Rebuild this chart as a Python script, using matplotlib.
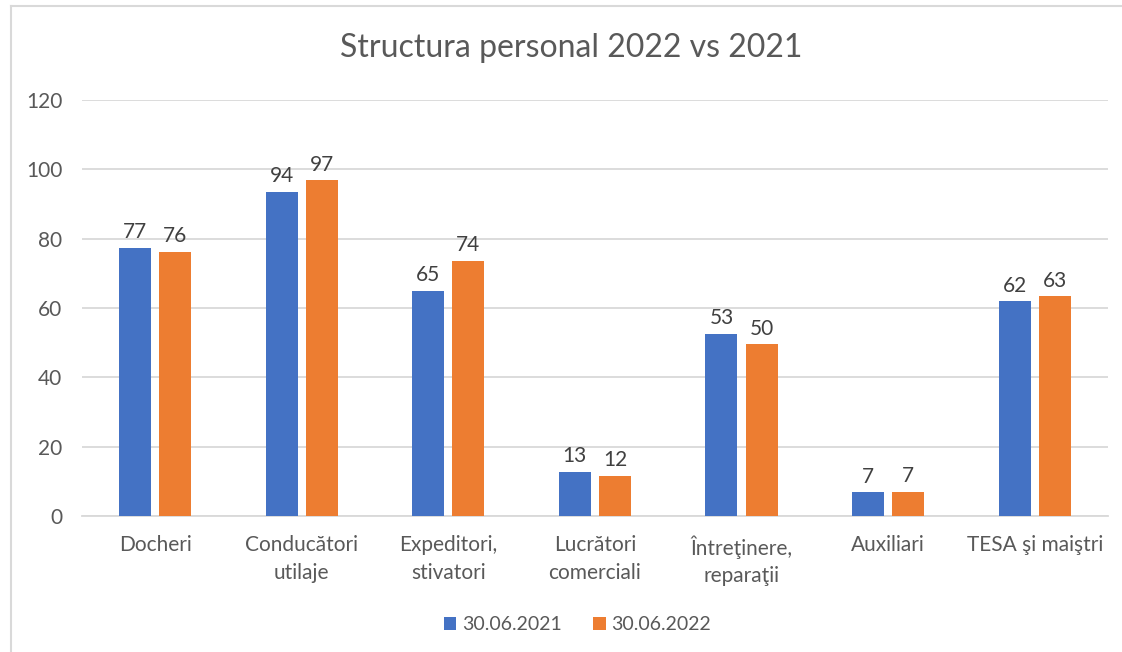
import numpy as np
import matplotlib
matplotlib.use('Agg')
import matplotlib.pyplot as plt
from matplotlib.lines import Line2D

plt.rcParams['font.family'] = ['Lato', 'DejaVu Sans']

# date
categorii = ['Docheri', 'Conducători\nutilaje', 'Expeditori,\nstivatori', 'Lucrători\ncomerciali',
             'Întreţinere,\nreparaţii', 'Auxiliari', 'TESA şi maiştri']
val_2021 = [77.3, 93.6, 65.0, 12.7, 52.6, 6.8, 61.9]
val_2022 = [76.2, 96.8, 73.6, 11.6, 49.6, 7.0, 63.4]
et_2021 = [77, 94, 65, 13, 53, 7, 62]
et_2022 = [76, 97, 74, 12, 50, 7, 63]
serii = ['30.06.2021', '30.06.2022']

albastru = '#4472C4'
portocaliu = '#ED7D31'
text_col = '#595959'
grid_col = '#D9D9D9'

fig = plt.figure(figsize=(11.22, 6.52), dpi=100)
ax = fig.add_axes([0.073, 0.2086, 0.9145, 0.638])

x = np.arange(len(categorii))
w = 0.218
off = 0.137
b1 = ax.bar(x - off, val_2021, w, color=albastru, label=serii[0], zorder=3)
b2 = ax.bar(x + off, val_2022, w, color=portocaliu, label=serii[1], zorder=3)

for bars, ets in [(b1, et_2021), (b2, et_2022)]:
    for b, e in zip(bars, ets):
        ax.annotate(f'{e}', xy=(b.get_x() + b.get_width() / 2, b.get_height()),
                    xytext=(0, 4), textcoords='offset points', ha='center', va='bottom',
                    fontsize=15, color='#404040')

ax.set_xlim(-0.5, len(categorii) - 0.5)
ax.set_ylim(0, 120)
ax.set_yticks(range(0, 121, 20))
ax.set_xticks(x)
ax.set_xticklabels(categorii, fontsize=15, color=text_col, linespacing=1.45)
ax.tick_params(axis='y', labelsize=15, labelcolor=text_col, length=0, pad=14)
ax.tick_params(axis='x', length=0, pad=14)
ax.grid(axis='y', color=grid_col, linewidth=1.3, zorder=0)
for s in ['top', 'right', 'left']:
    ax.spines[s].set_visible(False)
ax.spines['bottom'].set_color(grid_col)
ax.spines['bottom'].set_linewidth(1.3)

fig.text(0.509, 0.927, 'Structura personal 2022 vs 2021', ha='center', va='center',
         fontsize=23, color=text_col)

ax.legend(loc='center', bbox_to_anchor=(0.483, -0.262), ncol=2, frameon=False,
          fontsize=14, labelcolor=text_col, handlelength=0.65, handleheight=0.65,
          handletextpad=0.3, columnspacing=1.6)

# chenarul graficului (stanga si sus)
fig.add_artist(Line2D([0.0098, 0.0098], [0, 0.991], color='#D9D9D9', lw=1.5, transform=fig.transFigure))
fig.add_artist(Line2D([0.0098, 1], [0.991, 0.991], color='#D9D9D9', lw=1.5, transform=fig.transFigure))

fig.savefig('out.png', dpi=100)
